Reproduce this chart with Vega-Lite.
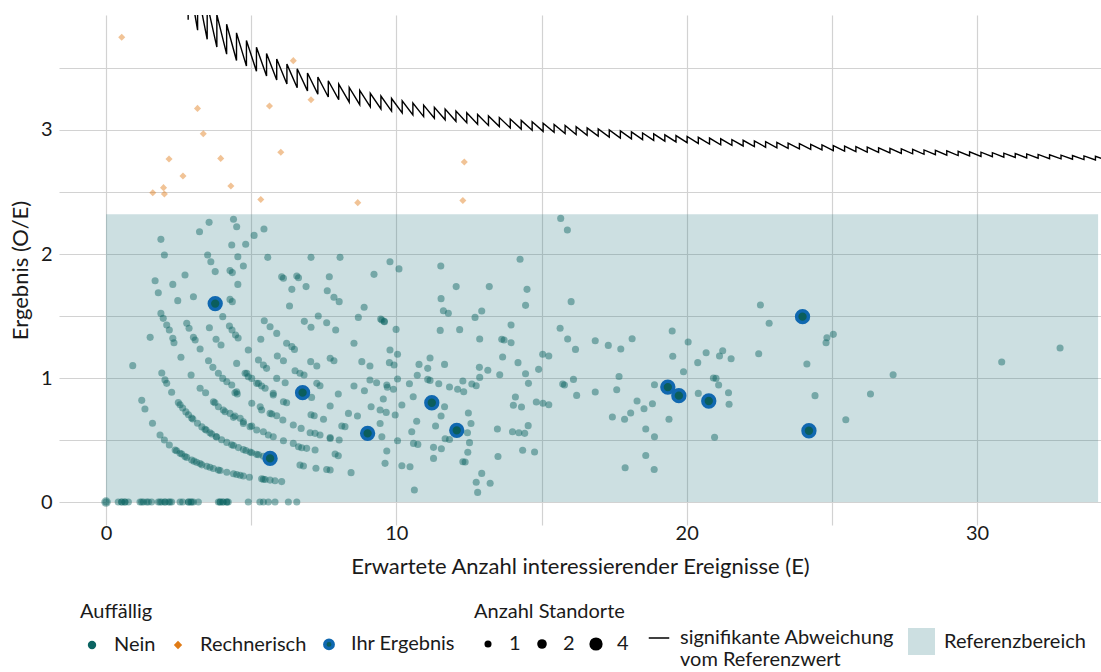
{
  "$schema": "https://vega.github.io/schema/vega-lite/v6.json",
  "width": 1042,
  "height": 510,
  "autosize": {"type": "none"},
  "padding": {"left": 59, "top": 15, "right": 0, "bottom": 147},
  "background": "white",
  "config": {
    "font": "Lato",
    "view": {"stroke": null},
    "axis": {"grid": true, "gridColor": "#d2d2d2", "gridWidth": 1.2, "domain": false, "ticks": false, "labelFont": "Lato", "labelFontSize": 20, "labelColor": "#1a1a1a", "titleFont": "Lato", "titleFontSize": 22, "titleFontWeight": "normal", "titleColor": "#1a1a1a"},
    "legend": {"labelFont": "Lato", "labelFontSize": 20, "labelColor": "#1a1a1a", "titleFont": "Lato", "titleFontSize": 20, "titleFontWeight": "normal", "titleColor": "#1a1a1a", "labelLimit": 400, "padding": 0}
  },
  "datasets": {
    "band": [{"x1": 0, "x2": 34.17, "y1": 0, "y2": 2.32}],
    "ihr": [
      {"E":3.76,"R":1.6,"k":"Ihr Ergebnis"},{"E":6.77,"R":0.882,"k":"Ihr Ergebnis"},{"E":5.65,"R":0.352,"k":"Ihr Ergebnis"},{"E":9.01,"R":0.554,"k":"Ihr Ergebnis"},{"E":11.22,"R":0.801,"k":"Ihr Ergebnis"},{"E":12.08,"R":0.578,"k":"Ihr Ergebnis"},{"E":19.35,"R":0.927,"k":"Ihr Ergebnis"},{"E":19.73,"R":0.858,"k":"Ihr Ergebnis"},{"E":20.76,"R":0.815,"k":"Ihr Ergebnis"},{"E":23.99,"R":1.495,"k":"Ihr Ergebnis"},{"E":24.21,"R":0.575,"k":"Ihr Ergebnis"}
    ],
    "pts": [
      {"E":0.54,"R":3.747,"k":"Rechnerisch","n":1},{"E":1.61,"R":2.494,"k":"Rechnerisch","n":1},{"E":1.98,"R":2.535,"k":"Rechnerisch","n":1},{"E":2.01,"R":2.484,"k":"Rechnerisch","n":1},{"E":2.17,"R":2.766,"k":"Rechnerisch","n":1},{"E":2.65,"R":2.629,"k":"Rechnerisch","n":1},{"E":3.15,"R":3.174,"k":"Rechnerisch","n":1},{"E":3.35,"R":2.97,"k":"Rechnerisch","n":1},{"E":3.95,"R":2.771,"k":"Rechnerisch","n":1},{"E":4.3,"R":2.548,"k":"Rechnerisch","n":1},{"E":5.33,"R":2.44,"k":"Rechnerisch","n":1},{"E":5.63,"R":3.193,"k":"Rechnerisch","n":1},{"E":6.02,"R":2.82,"k":"Rechnerisch","n":1},{"E":6.45,"R":3.559,"k":"Rechnerisch","n":1},{"E":7.06,"R":3.244,"k":"Rechnerisch","n":1},{"E":8.67,"R":2.414,"k":"Rechnerisch","n":1},{"E":12.34,"R":2.742,"k":"Rechnerisch","n":1},{"E":12.29,"R":2.432,"k":"Rechnerisch","n":1},
      {"E":0,"R":0,"k":"Nein","n":2},{"E":0,"R":0,"k":"Nein","n":1},{"E":0.42,"R":0,"k":"Nein","n":1},{"E":0.54,"R":0,"k":"Nein","n":1},{"E":0.54,"R":0,"k":"Nein","n":1},{"E":0.65,"R":0,"k":"Nein","n":1},{"E":0.65,"R":0,"k":"Nein","n":1},{"E":0.77,"R":0,"k":"Nein","n":1},{"E":1.17,"R":0,"k":"Nein","n":1},{"E":1.23,"R":0,"k":"Nein","n":1},{"E":1.29,"R":0,"k":"Nein","n":1},{"E":1.4,"R":0,"k":"Nein","n":1},{"E":1.46,"R":0,"k":"Nein","n":1},{"E":1.57,"R":0,"k":"Nein","n":1},{"E":1.8,"R":0,"k":"Nein","n":1},{"E":1.86,"R":0,"k":"Nein","n":1},{"E":1.92,"R":0,"k":"Nein","n":1},{"E":2.03,"R":0,"k":"Nein","n":1},{"E":2.03,"R":0,"k":"Nein","n":1},{"E":2.15,"R":0,"k":"Nein","n":1},{"E":2.2,"R":0,"k":"Nein","n":1},{"E":2.26,"R":0,"k":"Nein","n":1},{"E":2.55,"R":0,"k":"Nein","n":1},{"E":2.64,"R":0,"k":"Nein","n":1},{"E":2.84,"R":0,"k":"Nein","n":1},{"E":2.84,"R":0,"k":"Nein","n":1},{"E":2.92,"R":0,"k":"Nein","n":1},{"E":2.95,"R":0,"k":"Nein","n":1},{"E":3.01,"R":0,"k":"Nein","n":1},{"E":3.18,"R":0,"k":"Nein","n":1},{"E":3.87,"R":0,"k":"Nein","n":1},{"E":3.93,"R":0,"k":"Nein","n":1},{"E":3.93,"R":0,"k":"Nein","n":1},{"E":4.02,"R":0,"k":"Nein","n":1},{"E":4.04,"R":0,"k":"Nein","n":1},{"E":4.16,"R":0,"k":"Nein","n":1},{"E":4.16,"R":0,"k":"Nein","n":1},{"E":4.21,"R":0,"k":"Nein","n":1},{"E":4.9,"R":0,"k":"Nein","n":1},{"E":5.3,"R":0,"k":"Nein","n":1},{"E":5.42,"R":0,"k":"Nein","n":1},{"E":5.59,"R":0,"k":"Nein","n":1},{"E":5.82,"R":0,"k":"Nein","n":1},{"E":6.28,"R":0,"k":"Nein","n":1},{"E":6.57,"R":0,"k":"Nein","n":1},
      {"E":1.89,"R":2.118,"k":"Nein","n":1},{"E":2.01,"R":1.992,"k":"Nein","n":1},{"E":3.22,"R":2.18,"k":"Nein","n":1},{"E":3.55,"R":2.255,"k":"Nein","n":1},{"E":4.39,"R":2.28,"k":"Nein","n":1},{"E":4.5,"R":2.22,"k":"Nein","n":1},{"E":4.33,"R":2.072,"k":"Nein","n":1},{"E":4.81,"R":2.078,"k":"Nein","n":1},{"E":5.1,"R":2.15,"k":"Nein","n":1},{"E":5.44,"R":2.201,"k":"Nein","n":1},{"E":5.57,"R":1.973,"k":"Nein","n":1},{"E":7.06,"R":1.973,"k":"Nein","n":1},{"E":8.06,"R":1.973,"k":"Nein","n":1},{"E":3.5,"R":1.992,"k":"Nein","n":1},{"E":4.54,"R":1.978,"k":"Nein","n":1},{"E":9.78,"R":1.938,"k":"Nein","n":1},
      {"E":3.61,"R":1.938,"k":"Nein","n":1},{"E":3.76,"R":1.858,"k":"Nein","n":1},{"E":4.27,"R":1.866,"k":"Nein","n":1},{"E":4.35,"R":1.85,"k":"Nein","n":1},{"E":1.69,"R":1.785,"k":"Nein","n":1},{"E":1.8,"R":1.688,"k":"Nein","n":1},{"E":2.3,"R":1.755,"k":"Nein","n":1},{"E":2.72,"R":1.831,"k":"Nein","n":1},{"E":2.47,"R":1.624,"k":"Nein","n":1},{"E":3.01,"R":1.656,"k":"Nein","n":1},{"E":4.27,"R":1.634,"k":"Nein","n":1},{"E":4.35,"R":1.616,"k":"Nein","n":1},{"E":4.54,"R":1.755,"k":"Nein","n":1},{"E":4.02,"R":1.495,"k":"Nein","n":1},{"E":3.56,"R":1.406,"k":"Nein","n":1},{"E":3.79,"R":1.312,"k":"Nein","n":1},{"E":3.96,"R":1.266,"k":"Nein","n":1},{"E":4.25,"R":1.419,"k":"Nein","n":1},{"E":4.34,"R":1.387,"k":"Nein","n":1},{"E":4.46,"R":1.347,"k":"Nein","n":1},{"E":4.55,"R":1.323,"k":"Nein","n":1},{"E":1.52,"R":1.328,"k":"Nein","n":1},{"E":1.89,"R":1.521,"k":"Nein","n":1},{"E":1.97,"R":1.481,"k":"Nein","n":1},{"E":2.09,"R":1.427,"k":"Nein","n":1},{"E":2.18,"R":1.387,"k":"Nein","n":1},{"E":2.3,"R":1.32,"k":"Nein","n":1},{"E":2.34,"R":1.285,"k":"Nein","n":1},{"E":2.58,"R":1.167,"k":"Nein","n":1},{"E":2.93,"R":1.024,"k":"Nein","n":1},{"E":2.78,"R":1.441,"k":"Nein","n":1},{"E":2.86,"R":1.401,"k":"Nein","n":1},{"E":3.01,"R":1.328,"k":"Nein","n":1},{"E":3.07,"R":1.306,"k":"Nein","n":1},{"E":3.24,"R":1.234,"k":"Nein","n":1},{"E":3.53,"R":1.14,"k":"Nein","n":1},{"E":3.68,"R":1.086,"k":"Nein","n":1},{"E":3.87,"R":1.038,"k":"Nein","n":1},{"E":4.02,"R":0.997,"k":"Nein","n":1},{"E":4.16,"R":0.97,"k":"Nein","n":1},{"E":4.33,"R":0.944,"k":"Nein","n":1},{"E":4.44,"R":0.882,"k":"Nein","n":1},{"E":4.52,"R":0.871,"k":"Nein","n":1},{"E":0.92,"R":1.1,"k":"Nein","n":1},
      {"E":1.23,"R":0.82,"k":"Nein","n":1},{"E":1.34,"R":0.75,"k":"Nein","n":1},{"E":1.6,"R":0.635,"k":"Nein","n":1},{"E":1.86,"R":0.54,"k":"Nein","n":1},{"E":2.01,"R":0.5,"k":"Nein","n":1},{"E":2.18,"R":0.46,"k":"Nein","n":1},{"E":2.38,"R":0.42,"k":"Nein","n":1},{"E":2.43,"R":0.414,"k":"Nein","n":1},{"E":2.55,"R":0.393,"k":"Nein","n":1},{"E":2.61,"R":0.387,"k":"Nein","n":1},{"E":2.72,"R":0.368,"k":"Nein","n":1},{"E":2.78,"R":0.36,"k":"Nein","n":1},{"E":2.95,"R":0.339,"k":"Nein","n":1},{"E":3.03,"R":0.33,"k":"Nein","n":1},{"E":3.12,"R":0.32,"k":"Nein","n":1},{"E":3.24,"R":0.31,"k":"Nein","n":1},{"E":3.3,"R":0.3,"k":"Nein","n":1},{"E":3.47,"R":0.288,"k":"Nein","n":1},{"E":3.58,"R":0.28,"k":"Nein","n":1},{"E":3.7,"R":0.27,"k":"Nein","n":1},{"E":3.87,"R":0.258,"k":"Nein","n":1},{"E":3.93,"R":0.254,"k":"Nein","n":1},{"E":4.16,"R":0.24,"k":"Nein","n":1},{"E":4.39,"R":0.228,"k":"Nein","n":1},{"E":4.5,"R":0.222,"k":"Nein","n":1},{"E":4.62,"R":0.216,"k":"Nein","n":1},{"E":4.73,"R":0.21,"k":"Nein","n":1},{"E":4.94,"R":0.2,"k":"Nein","n":1},{"E":5.36,"R":0.187,"k":"Nein","n":1},{"E":5.42,"R":0.184,"k":"Nein","n":1},{"E":5.48,"R":0.182,"k":"Nein","n":1},{"E":5.65,"R":0.177,"k":"Nein","n":1},{"E":5.82,"R":0.172,"k":"Nein","n":1},{"E":6.05,"R":0.165,"k":"Nein","n":1},
      {"E":1.92,"R":1.04,"k":"Nein","n":1},{"E":2.03,"R":0.985,"k":"Nein","n":1},{"E":2.09,"R":0.957,"k":"Nein","n":1},{"E":2.26,"R":0.885,"k":"Nein","n":1},{"E":2.49,"R":0.803,"k":"Nein","n":1},{"E":2.55,"R":0.784,"k":"Nein","n":1},{"E":2.64,"R":0.758,"k":"Nein","n":1},{"E":2.75,"R":0.727,"k":"Nein","n":1},{"E":2.84,"R":0.704,"k":"Nein","n":1},{"E":2.95,"R":0.678,"k":"Nein","n":1},{"E":2.99,"R":0.669,"k":"Nein","n":1},{"E":3.15,"R":0.635,"k":"Nein","n":1},{"E":3.3,"R":0.606,"k":"Nein","n":1},{"E":3.41,"R":0.587,"k":"Nein","n":1},{"E":3.45,"R":0.58,"k":"Nein","n":1},{"E":3.58,"R":0.559,"k":"Nein","n":1},{"E":3.64,"R":0.549,"k":"Nein","n":1},{"E":3.79,"R":0.528,"k":"Nein","n":1},{"E":3.81,"R":0.525,"k":"Nein","n":1},{"E":3.98,"R":0.503,"k":"Nein","n":1},{"E":4.16,"R":0.481,"k":"Nein","n":1},{"E":4.33,"R":0.462,"k":"Nein","n":1},{"E":4.39,"R":0.456,"k":"Nein","n":1},{"E":4.56,"R":0.439,"k":"Nein","n":1},{"E":4.73,"R":0.423,"k":"Nein","n":1},{"E":4.82,"R":0.415,"k":"Nein","n":1},{"E":4.96,"R":0.403,"k":"Nein","n":1},{"E":5.02,"R":0.398,"k":"Nein","n":1},{"E":5.19,"R":0.385,"k":"Nein","n":1},{"E":5.25,"R":0.381,"k":"Nein","n":1},{"E":5.42,"R":0.369,"k":"Nein","n":1},
      {"E":3.24,"R":0.917,"k":"Nein","n":1},{"E":3.43,"R":0.882,"k":"Nein","n":1},{"E":3.7,"R":0.809,"k":"Nein","n":1},{"E":3.75,"R":0.801,"k":"Nein","n":1},{"E":3.87,"R":0.769,"k":"Nein","n":1},{"E":4.04,"R":0.742,"k":"Nein","n":1},{"E":4.1,"R":0.728,"k":"Nein","n":1},{"E":4.27,"R":0.715,"k":"Nein","n":1},{"E":4.39,"R":0.683,"k":"Nein","n":1},{"E":4.44,"R":0.694,"k":"Nein","n":1},{"E":4.62,"R":0.675,"k":"Nein","n":1},{"E":4.73,"R":0.634,"k":"Nein","n":1},{"E":4.73,"R":0.648,"k":"Nein","n":1},{"E":4.96,"R":0.608,"k":"Nein","n":1},{"E":5.02,"R":0.613,"k":"Nein","n":1},{"E":5.19,"R":0.581,"k":"Nein","n":1},{"E":5.42,"R":0.567,"k":"Nein","n":1},{"E":5.59,"R":0.54,"k":"Nein","n":1},{"E":5.76,"R":0.527,"k":"Nein","n":1},{"E":6.11,"R":0.495,"k":"Nein","n":1},{"E":6.45,"R":0.473,"k":"Nein","n":1},{"E":6.63,"R":0.446,"k":"Nein","n":1},{"E":6.74,"R":0.438,"k":"Nein","n":1},{"E":6.91,"R":0.433,"k":"Nein","n":1},{"E":7.2,"R":0.419,"k":"Nein","n":1},{"E":7.89,"R":0.387,"k":"Nein","n":1},{"E":8.0,"R":0.374,"k":"Nein","n":1},
      {"E":5.02,"R":0.796,"k":"Nein","n":1},{"E":5.31,"R":0.769,"k":"Nein","n":1},{"E":5.36,"R":0.742,"k":"Nein","n":1},{"E":5.65,"R":0.715,"k":"Nein","n":1},{"E":5.71,"R":0.71,"k":"Nein","n":1},{"E":5.88,"R":0.696,"k":"Nein","n":1},{"E":6.09,"R":0.661,"k":"Nein","n":1},{"E":6.45,"R":0.621,"k":"Nein","n":1},{"E":6.72,"R":0.594,"k":"Nein","n":1},{"E":7.03,"R":0.559,"k":"Nein","n":1},{"E":7.2,"R":0.554,"k":"Nein","n":1},{"E":7.37,"R":0.54,"k":"Nein","n":1},{"E":7.72,"R":0.521,"k":"Nein","n":1},{"E":8.03,"R":0.5,"k":"Nein","n":1},{"E":4.5,"R":0.89,"k":"Nein","n":1},
      {"E":4.5,"R":1.118,"k":"Nein","n":1},{"E":4.79,"R":1.038,"k":"Nein","n":1},{"E":4.85,"R":1.038,"k":"Nein","n":1},{"E":4.9,"R":1.011,"k":"Nein","n":1},{"E":5.02,"R":0.997,"k":"Nein","n":1},{"E":5.19,"R":0.957,"k":"Nein","n":1},{"E":5.25,"R":0.957,"k":"Nein","n":1},{"E":5.36,"R":0.936,"k":"Nein","n":1},{"E":5.48,"R":0.917,"k":"Nein","n":1},{"E":5.76,"R":0.876,"k":"Nein","n":1},{"E":5.76,"R":0.863,"k":"Nein","n":1},{"E":6.11,"R":0.809,"k":"Nein","n":1},{"E":6.22,"R":0.801,"k":"Nein","n":1},{"E":7.06,"R":0.704,"k":"Nein","n":1},{"E":7.17,"R":0.696,"k":"Nein","n":1},{"E":7.49,"R":0.667,"k":"Nein","n":1},{"E":8.12,"R":0.613,"k":"Nein","n":1},{"E":8.23,"R":0.608,"k":"Nein","n":1},
      {"E":4.73,"R":1.903,"k":"Nein","n":1},{"E":9.23,"R":1.836,"k":"Nein","n":1},{"E":6.05,"R":1.817,"k":"Nein","n":1},{"E":6.11,"R":1.804,"k":"Nein","n":1},{"E":6.57,"R":1.823,"k":"Nein","n":1},{"E":6.63,"R":1.809,"k":"Nein","n":1},{"E":7.69,"R":1.817,"k":"Nein","n":1},{"E":6.4,"R":1.715,"k":"Nein","n":1},{"E":6.89,"R":1.737,"k":"Nein","n":1},{"E":7.62,"R":1.704,"k":"Nein","n":1},{"E":7.85,"R":1.651,"k":"Nein","n":1},{"E":8.03,"R":1.616,"k":"Nein","n":1},{"E":6.32,"R":1.581,"k":"Nein","n":1},{"E":8.89,"R":1.57,"k":"Nein","n":1},{"E":8.69,"R":1.489,"k":"Nein","n":1},{"E":9.46,"R":1.476,"k":"Nein","n":1},{"E":9.58,"R":1.457,"k":"Nein","n":1},{"E":5.45,"R":1.462,"k":"Nein","n":1},{"E":5.65,"R":1.414,"k":"Nein","n":1},{"E":5.88,"R":1.36,"k":"Nein","n":1},{"E":6.83,"R":1.457,"k":"Nein","n":1},{"E":7.06,"R":1.409,"k":"Nein","n":1},{"E":7.31,"R":1.5,"k":"Nein","n":1},{"E":7.6,"R":1.446,"k":"Nein","n":1},{"E":7.91,"R":1.387,"k":"Nein","n":1},{"E":5.33,"R":1.312,"k":"Nein","n":1},{"E":6.22,"R":1.28,"k":"Nein","n":1},{"E":6.4,"R":1.253,"k":"Nein","n":1},{"E":6.49,"R":1.231,"k":"Nein","n":1},{"E":5.9,"R":1.177,"k":"Nein","n":1},{"E":6.11,"R":1.14,"k":"Nein","n":1},{"E":4.9,"R":1.226,"k":"Nein","n":1},{"E":5.25,"R":1.145,"k":"Nein","n":1},{"E":5.42,"R":1.105,"k":"Nein","n":1},{"E":5.53,"R":1.078,"k":"Nein","n":1},{"E":7.05,"R":1.132,"k":"Nein","n":1},{"E":7.26,"R":1.097,"k":"Nein","n":1},{"E":7.72,"R":1.159,"k":"Nein","n":1},{"E":7.85,"R":1.14,"k":"Nein","n":1},{"E":8.54,"R":1.28,"k":"Nein","n":1},{"E":8.81,"R":1.132,"k":"Nein","n":1},{"E":9.09,"R":1.097,"k":"Nein","n":1},{"E":5.88,"R":0.997,"k":"Nein","n":1},{"E":6.17,"R":0.962,"k":"Nein","n":1},{"E":6.51,"R":1.059,"k":"Nein","n":1},{"E":6.68,"R":1.038,"k":"Nein","n":1},{"E":6.82,"R":1.024,"k":"Nein","n":1},{"E":7.26,"R":0.957,"k":"Nein","n":1},{"E":7.37,"R":0.938,"k":"Nein","n":1},{"E":8.0,"R":0.871,"k":"Nein","n":1},{"E":7.08,"R":0.844,"k":"Nein","n":1},{"E":7.72,"R":0.774,"k":"Nein","n":1},{"E":8.54,"R":0.936,"k":"Nein","n":1},{"E":8.9,"R":0.898,"k":"Nein","n":1},{"E":9.09,"R":0.984,"k":"Nein","n":1},{"E":9.32,"R":0.962,"k":"Nein","n":1},{"E":9.67,"R":0.944,"k":"Nein","n":1},{"E":9.9,"R":0.909,"k":"Nein","n":1},{"E":8.66,"R":0.694,"k":"Nein","n":1},{"E":8.35,"R":0.715,"k":"Nein","n":1},{"E":9.13,"R":0.769,"k":"Nein","n":1},{"E":7.72,"R":0.513,"k":"Nein","n":1},{"E":6.68,"R":0.298,"k":"Nein","n":1},{"E":6.8,"R":0.29,"k":"Nein","n":1},{"E":7.23,"R":0.272,"k":"Nein","n":1},{"E":7.6,"R":0.263,"k":"Nein","n":1},{"E":7.72,"R":0.258,"k":"Nein","n":1},{"E":8.44,"R":0.237,"k":"Nein","n":1},
      {"E":10.09,"R":1.88,"k":"Nein","n":1},{"E":11.53,"R":1.903,"k":"Nein","n":1},{"E":14.26,"R":1.957,"k":"Nein","n":1},{"E":12.06,"R":1.737,"k":"Nein","n":1},{"E":13.2,"R":1.737,"k":"Nein","n":1},{"E":14.5,"R":1.715,"k":"Nein","n":1},{"E":11.54,"R":1.64,"k":"Nein","n":1},{"E":14.45,"R":1.586,"k":"Nein","n":1},{"E":16.02,"R":1.616,"k":"Nein","n":1},{"E":11.62,"R":1.543,"k":"Nein","n":1},{"E":11.79,"R":1.522,"k":"Nein","n":1},{"E":12.71,"R":1.489,"k":"Nein","n":1},{"E":12.94,"R":1.54,"k":"Nein","n":1},{"E":9.5,"R":1.468,"k":"Nein","n":1},{"E":9.59,"R":1.454,"k":"Nein","n":1},{"E":9.99,"R":1.392,"k":"Nein","n":1},{"E":11.51,"R":1.384,"k":"Nein","n":1},{"E":12.18,"R":1.39,"k":"Nein","n":1},{"E":13.95,"R":1.427,"k":"Nein","n":1},{"E":15.64,"R":1.401,"k":"Nein","n":1},{"E":15.9,"R":1.315,"k":"Nein","n":1},{"E":16.17,"R":1.231,"k":"Nein","n":1},{"E":16.85,"R":1.301,"k":"Nein","n":1},{"E":17.3,"R":1.263,"k":"Nein","n":1},{"E":17.73,"R":1.234,"k":"Nein","n":1},{"E":18.12,"R":1.317,"k":"Nein","n":1},{"E":19.5,"R":1.379,"k":"Nein","n":1},{"E":20.05,"R":1.29,"k":"Nein","n":1},{"E":19.52,"R":1.175,"k":"Nein","n":1},{"E":19.89,"R":1.051,"k":"Nein","n":1},{"E":20.38,"R":1.124,"k":"Nein","n":1},{"E":20.67,"R":1.204,"k":"Nein","n":1},{"E":21.13,"R":1.177,"k":"Nein","n":1},{"E":21.24,"R":1.22,"k":"Nein","n":1},{"E":21.53,"R":1.156,"k":"Nein","n":1},{"E":22.48,"R":1.196,"k":"Nein","n":1},{"E":22.54,"R":1.589,"k":"Nein","n":1},{"E":22.84,"R":1.441,"k":"Nein","n":1},{"E":12.87,"R":1.315,"k":"Nein","n":1},{"E":13.63,"R":1.312,"k":"Nein","n":1},{"E":13.71,"R":1.306,"k":"Nein","n":1},{"E":13.95,"R":1.285,"k":"Nein","n":1},{"E":9.78,"R":1.226,"k":"Nein","n":1},{"E":10.04,"R":1.191,"k":"Nein","n":1},{"E":11.16,"R":1.161,"k":"Nein","n":1},{"E":11.66,"R":1.11,"k":"Nein","n":1},{"E":10.78,"R":1.11,"k":"Nein","n":1},{"E":11.08,"R":1.078,"k":"Nein","n":1},{"E":9.76,"R":1.124,"k":"Nein","n":1},{"E":9.92,"R":1.105,"k":"Nein","n":1},{"E":12.86,"R":1.086,"k":"Nein","n":1},{"E":13.15,"R":1.062,"k":"Nein","n":1},{"E":13.66,"R":1.169,"k":"Nein","n":1},{"E":14.19,"R":1.124,"k":"Nein","n":1},{"E":15.04,"R":1.191,"k":"Nein","n":1},{"E":15.25,"R":1.177,"k":"Nein","n":1},{"E":14.9,"R":1.07,"k":"Nein","n":1},{"E":14.45,"R":1.035,"k":"Nein","n":1},{"E":14.55,"R":0.957,"k":"Nein","n":1},{"E":13.56,"R":1.027,"k":"Nein","n":1},{"E":12.87,"R":1.005,"k":"Nein","n":1},{"E":12.29,"R":0.976,"k":"Nein","n":1},{"E":12.11,"R":0.909,"k":"Nein","n":1},{"E":12.32,"R":0.89,"k":"Nein","n":1},{"E":12.6,"R":0.952,"k":"Nein","n":1},{"E":12.75,"R":0.938,"k":"Nein","n":1},{"E":11.83,"R":0.927,"k":"Nein","n":1},{"E":11.46,"R":0.954,"k":"Nein","n":1},{"E":11.16,"R":0.981,"k":"Nein","n":1},{"E":11.08,"R":0.989,"k":"Nein","n":1},{"E":10.45,"R":0.954,"k":"Nein","n":1},{"E":10.72,"R":1.022,"k":"Nein","n":1},{"E":10.04,"R":0.992,"k":"Nein","n":1},{"E":9.69,"R":0.925,"k":"Nein","n":1},{"E":10.58,"R":0.849,"k":"Nein","n":1},{"E":10.19,"R":0.782,"k":"Nein","n":1},{"E":9.55,"R":0.831,"k":"Nein","n":1},{"E":9.44,"R":0.742,"k":"Nein","n":1},{"E":9.65,"R":0.723,"k":"Nein","n":1},{"E":9.96,"R":0.702,"k":"Nein","n":1},{"E":10.7,"R":0.651,"k":"Nein","n":1},{"E":11.35,"R":0.613,"k":"Nein","n":1},{"E":11.54,"R":0.694,"k":"Nein","n":1},{"E":11.66,"R":0.769,"k":"Nein","n":1},{"E":12.48,"R":0.718,"k":"Nein","n":1},{"E":12.57,"R":0.634,"k":"Nein","n":1},{"E":12.45,"R":0.559,"k":"Nein","n":1},{"E":13.48,"R":0.589,"k":"Nein","n":1},{"E":14.0,"R":0.567,"k":"Nein","n":1},{"E":14.22,"R":0.559,"k":"Nein","n":1},{"E":14.42,"R":0.554,"k":"Nein","n":1},{"E":14.54,"R":0.616,"k":"Nein","n":1},{"E":14.03,"R":0.78,"k":"Nein","n":1},{"E":14.31,"R":0.766,"k":"Nein","n":1},{"E":14.1,"R":0.847,"k":"Nein","n":1},{"E":14.82,"R":0.807,"k":"Nein","n":1},{"E":15.05,"R":0.796,"k":"Nein","n":1},{"E":15.25,"R":0.785,"k":"Nein","n":1},{"E":15.73,"R":0.952,"k":"Nein","n":1},{"E":15.79,"R":0.944,"k":"Nein","n":1},{"E":16.1,"R":0.989,"k":"Nein","n":1},{"E":16.21,"R":0.86,"k":"Nein","n":1},{"E":16.85,"R":0.887,"k":"Nein","n":1},{"E":17.67,"R":1.013,"k":"Nein","n":1},{"E":17.59,"R":0.906,"k":"Nein","n":1},{"E":17.44,"R":0.686,"k":"Nein","n":1},{"E":17.86,"R":0.667,"k":"Nein","n":1},{"E":18.07,"R":0.718,"k":"Nein","n":1},{"E":18.29,"R":0.815,"k":"Nein","n":1},{"E":18.53,"R":0.753,"k":"Nein","n":1},{"E":18.82,"R":0.793,"k":"Nein","n":1},{"E":18.89,"R":0.946,"k":"Nein","n":1},{"E":20.4,"R":0.876,"k":"Nein","n":1},{"E":20.92,"R":1.0,"k":"Nein","n":1},{"E":21.01,"R":0.997,"k":"Nein","n":1},{"E":21.1,"R":0.944,"k":"Nein","n":1},{"E":21.44,"R":0.882,"k":"Nein","n":1},{"E":21.46,"R":0.788,"k":"Nein","n":1},{"E":19.39,"R":0.667,"k":"Nein","n":1},{"E":20.96,"R":0.522,"k":"Nein","n":1},{"E":18.59,"R":0.589,"k":"Nein","n":1},{"E":18.89,"R":0.527,"k":"Nein","n":1},{"E":18.59,"R":0.376,"k":"Nein","n":1},{"E":17.88,"R":0.277,"k":"Nein","n":1},{"E":18.88,"R":0.263,"k":"Nein","n":1},{"E":14.76,"R":0.403,"k":"Nein","n":1},{"E":14.35,"R":0.417,"k":"Nein","n":1},{"E":13.5,"R":0.368,"k":"Nein","n":1},{"E":12.29,"R":0.325,"k":"Nein","n":1},{"E":12.37,"R":0.323,"k":"Nein","n":1},{"E":12.46,"R":0.401,"k":"Nein","n":1},{"E":12.52,"R":0.479,"k":"Nein","n":1},{"E":11.83,"R":0.505,"k":"Nein","n":1},{"E":11.68,"R":0.511,"k":"Nein","n":1},{"E":11.55,"R":0.43,"k":"Nein","n":1},{"E":11.28,"R":0.441,"k":"Nein","n":1},{"E":11.28,"R":0.352,"k":"Nein","n":1},{"E":10.74,"R":0.465,"k":"Nein","n":1},{"E":10.59,"R":0.473,"k":"Nein","n":1},{"E":10.53,"R":0.567,"k":"Nein","n":1},{"E":10.04,"R":0.495,"k":"Nein","n":1},{"E":9.67,"R":0.411,"k":"Nein","n":1},{"E":9.61,"R":0.312,"k":"Nein","n":1},{"E":10.19,"R":0.293,"k":"Nein","n":1},{"E":10.47,"R":0.285,"k":"Nein","n":1},{"E":10.62,"R":0.097,"k":"Nein","n":1},{"E":12.75,"R":0.159,"k":"Nein","n":1},{"E":12.94,"R":0.231,"k":"Nein","n":1},{"E":13.23,"R":0.151,"k":"Nein","n":1},{"E":12.8,"R":0.078,"k":"Nein","n":1},{"E":9.5,"R":0.527,"k":"Nein","n":1},{"E":9.44,"R":0.634,"k":"Nein","n":1},
      {"E":24.83,"R":1.325,"k":"Nein","n":1},{"E":24.8,"R":1.285,"k":"Nein","n":1},{"E":25.05,"R":1.352,"k":"Nein","n":1},{"E":24.14,"R":1.113,"k":"Nein","n":1},{"E":24.42,"R":0.858,"k":"Nein","n":1},{"E":25.48,"R":0.664,"k":"Nein","n":1},{"E":26.33,"R":0.871,"k":"Nein","n":1},{"E":27.11,"R":1.027,"k":"Nein","n":1},{"E":30.85,"R":1.129,"k":"Nein","n":1},{"E":32.86,"R":1.242,"k":"Nein","n":1},{"E":15.66,"R":2.287,"k":"Nein","n":1},{"E":15.89,"R":2.193,"k":"Nein","n":1}
    ],
    "zz": [
      {"E":2.829,"R":3.888,"i":0},{"E":2.829,"R":4.242,"i":1},{"E":3.154,"R":3.805,"i":2},{"E":3.154,"R":4.122,"i":3},{"E":3.484,"R":3.731,"i":4},{"E":3.484,"R":4.018,"i":5},{"E":3.817,"R":3.668,"i":6},{"E":3.817,"R":3.93,"i":7},{"E":4.154,"R":3.611,"i":8},{"E":4.154,"R":3.852,"i":9},{"E":4.494,"R":3.56,"i":10},{"E":4.494,"R":3.783,"i":11},{"E":4.836,"R":3.515,"i":12},{"E":4.836,"R":3.722,"i":13},{"E":5.181,"R":3.474,"i":14},{"E":5.181,"R":3.667,"i":15},{"E":5.529,"R":3.436,"i":16},{"E":5.529,"R":3.617,"i":17},{"E":5.879,"R":3.402,"i":18},{"E":5.879,"R":3.572,"i":19},{"E":6.23,"R":3.371,"i":20},{"E":6.23,"R":3.531,"i":21},{"E":6.584,"R":3.341,"i":22},{"E":6.584,"R":3.493,"i":23},{"E":6.939,"R":3.315,"i":24},{"E":6.939,"R":3.459,"i":25},{"E":7.296,"R":3.289,"i":26},{"E":7.296,"R":3.427,"i":27},{"E":7.655,"R":3.266,"i":28},{"E":7.655,"R":3.397,"i":29},{"E":8.015,"R":3.244,"i":30},{"E":8.015,"R":3.369,"i":31},{"E":8.376,"R":3.224,"i":32},{"E":8.376,"R":3.343,"i":33},{"E":8.738,"R":3.204,"i":34},{"E":8.738,"R":3.319,"i":35},{"E":9.102,"R":3.186,"i":36},{"E":9.102,"R":3.296,"i":37},{"E":9.468,"R":3.169,"i":38},{"E":9.468,"R":3.274,"i":39},{"E":9.834,"R":3.152,"i":40},{"E":9.834,"R":3.254,"i":41},{"E":10.201,"R":3.137,"i":42},{"E":10.201,"R":3.235,"i":43},{"E":10.569,"R":3.122,"i":44},{"E":10.569,"R":3.217,"i":45},{"E":10.939,"R":3.108,"i":46},{"E":10.939,"R":3.2,"i":47},{"E":11.309,"R":3.095,"i":48},{"E":11.309,"R":3.183,"i":49},{"E":11.68,"R":3.082,"i":50},{"E":11.68,"R":3.168,"i":51},{"E":12.052,"R":3.07,"i":52},{"E":12.052,"R":3.153,"i":53},{"E":12.425,"R":3.058,"i":54},{"E":12.425,"R":3.139,"i":55},{"E":12.798,"R":3.047,"i":56},{"E":12.798,"R":3.125,"i":57},{"E":13.172,"R":3.037,"i":58},{"E":13.172,"R":3.113,"i":59},{"E":13.547,"R":3.027,"i":60},{"E":13.547,"R":3.1,"i":61},{"E":13.923,"R":3.017,"i":62},{"E":13.923,"R":3.088,"i":63},{"E":14.3,"R":3.007,"i":64},{"E":14.3,"R":3.077,"i":65},{"E":14.677,"R":2.998,"i":66},{"E":14.677,"R":3.066,"i":67},{"E":15.055,"R":2.989,"i":68},{"E":15.055,"R":3.055,"i":69},{"E":15.433,"R":2.981,"i":70},{"E":15.433,"R":3.045,"i":71},{"E":15.812,"R":2.972,"i":72},{"E":15.812,"R":3.036,"i":73},{"E":16.192,"R":2.964,"i":74},{"E":16.192,"R":3.026,"i":75},{"E":16.571,"R":2.957,"i":76},{"E":16.571,"R":3.017,"i":77},{"E":16.952,"R":2.95,"i":78},{"E":16.952,"R":3.008,"i":79},{"E":17.333,"R":2.942,"i":80},{"E":17.333,"R":3.0,"i":81},{"E":17.715,"R":2.935,"i":82},{"E":17.715,"R":2.992,"i":83},{"E":18.097,"R":2.929,"i":84},{"E":18.097,"R":2.984,"i":85},{"E":18.48,"R":2.922,"i":86},{"E":18.48,"R":2.976,"i":87},{"E":18.863,"R":2.916,"i":88},{"E":18.863,"R":2.969,"i":89},{"E":19.247,"R":2.91,"i":90},{"E":19.247,"R":2.961,"i":91},{"E":19.631,"R":2.904,"i":92},{"E":19.631,"R":2.955,"i":93},{"E":20.015,"R":2.898,"i":94},{"E":20.015,"R":2.948,"i":95},{"E":20.4,"R":2.892,"i":96},{"E":20.4,"R":2.941,"i":97},{"E":20.786,"R":2.887,"i":98},{"E":20.786,"R":2.935,"i":99},{"E":21.171,"R":2.881,"i":100},{"E":21.171,"R":2.929,"i":101},{"E":21.557,"R":2.876,"i":102},{"E":21.557,"R":2.922,"i":103},{"E":21.944,"R":2.871,"i":104},{"E":21.944,"R":2.917,"i":105},{"E":22.331,"R":2.866,"i":106},{"E":22.331,"R":2.911,"i":107},{"E":22.718,"R":2.861,"i":108},{"E":22.718,"R":2.905,"i":109},{"E":23.106,"R":2.856,"i":110},{"E":23.106,"R":2.9,"i":111},{"E":23.493,"R":2.852,"i":112},{"E":23.493,"R":2.894,"i":113},{"E":23.882,"R":2.847,"i":114},{"E":23.882,"R":2.889,"i":115},{"E":24.271,"R":2.843,"i":116},{"E":24.271,"R":2.884,"i":117},{"E":24.659,"R":2.839,"i":118},{"E":24.659,"R":2.879,"i":119},{"E":25.049,"R":2.834,"i":120},{"E":25.049,"R":2.874,"i":121},{"E":25.438,"R":2.83,"i":122},{"E":25.438,"R":2.87,"i":123},{"E":25.828,"R":2.826,"i":124},{"E":25.828,"R":2.865,"i":125},{"E":26.218,"R":2.822,"i":126},{"E":26.218,"R":2.861,"i":127},{"E":26.609,"R":2.819,"i":128},{"E":26.609,"R":2.856,"i":129},{"E":27.0,"R":2.815,"i":130},{"E":27.0,"R":2.852,"i":131},{"E":27.391,"R":2.811,"i":132},{"E":27.391,"R":2.848,"i":133},{"E":27.782,"R":2.808,"i":134},{"E":27.782,"R":2.844,"i":135},{"E":28.174,"R":2.804,"i":136},{"E":28.174,"R":2.839,"i":137},{"E":28.566,"R":2.801,"i":138},{"E":28.566,"R":2.836,"i":139},{"E":28.958,"R":2.797,"i":140},{"E":28.958,"R":2.832,"i":141},{"E":29.35,"R":2.794,"i":142},{"E":29.35,"R":2.828,"i":143},{"E":29.743,"R":2.791,"i":144},{"E":29.743,"R":2.824,"i":145},{"E":30.136,"R":2.787,"i":146},{"E":30.136,"R":2.821,"i":147},{"E":30.529,"R":2.784,"i":148},{"E":30.529,"R":2.817,"i":149},{"E":30.923,"R":2.781,"i":150},{"E":30.923,"R":2.813,"i":151},{"E":31.316,"R":2.778,"i":152},{"E":31.316,"R":2.81,"i":153},{"E":31.71,"R":2.775,"i":154},{"E":31.71,"R":2.807,"i":155},{"E":32.104,"R":2.772,"i":156},{"E":32.104,"R":2.803,"i":157},{"E":32.498,"R":2.769,"i":158},{"E":32.498,"R":2.8,"i":159},{"E":32.893,"R":2.767,"i":160},{"E":32.893,"R":2.797,"i":161},{"E":33.288,"R":2.764,"i":162},{"E":33.288,"R":2.794,"i":163},{"E":33.683,"R":2.761,"i":164},{"E":33.683,"R":2.791,"i":165},{"E":34.078,"R":2.758,"i":166},{"E":34.078,"R":2.788,"i":167},{"E":34.474,"R":2.756,"i":168},{"E":34.474,"R":2.785,"i":169}
    ]
  },
  "layer": [
    {
      "data": {"name": "band"},
      "mark": {"type": "rect", "opacity": 0.24},
      "encoding": {
        "x": {"field": "x1", "type": "quantitative", "scale": {"domain": [-1.62, 34.27], "nice": false, "zero": false}, "axis": {"values": [0, 5, 10, 15, 20, 25, 30], "format": "d", "labelExpr": "datum.value % 10 === 0 ? datum.label : ''", "title": "Erwartete Anzahl interessierender Ereignisse (E)", "labelPadding": -2, "titlePadding": 13}},
        "x2": {"field": "x2"},
        "y": {"field": "y1", "type": "quantitative", "scale": {"domain": [-0.185, 3.927], "nice": false, "zero": false}, "axis": {"values": [0, 0.5, 1, 1.5, 2, 2.5, 3, 3.5], "format": ".0f", "labelExpr": "datum.value % 1 === 0 ? datum.label : ''", "title": "Ergebnis (O/E)", "labelPadding": 7, "titlePadding": 8}},
        "y2": {"field": "y2"},
        "fill": {"datum": "Referenzbereich", "type": "nominal", "scale": {"range": ["#2a7a80"]}, "legend": {"title": null, "orient": "none", "legendX": 849, "legendY": 613, "symbolType": "square", "symbolSize": 729, "symbolStrokeWidth": 0, "labelOffset": 9}}
      }
    },
    {
      "data": {"name": "pts"},
      "mark": {"type": "point", "filled": true, "opacity": 0.45},
      "encoding": {
        "x": {"field": "E", "type": "quantitative"},
        "y": {"field": "R", "type": "quantitative"},
        "color": {"field": "k", "type": "nominal", "scale": {"domain": ["Nein", "Rechnerisch", "Ihr Ergebnis"], "range": ["#0b6462", "#e07b16", "#0b5e5c"]}, "legend": {"title": "Auffällig", "orient": "none", "legendX": 21, "legendY": 587, "direction": "horizontal", "symbolSize": 70, "symbolOpacity": 1, "symbolStrokeColor": "#1068b0", "labelOffset": 12, "columnPadding": 10, "symbolOffset": 2, "titlePadding": 12}},
        "shape": {"field": "k", "type": "nominal", "scale": {"domain": ["Nein", "Rechnerisch", "Ihr Ergebnis"], "range": ["circle", "diamond", "circle"]}, "legend": {"title": "Auffällig", "orient": "none", "legendX": 21, "legendY": 587, "direction": "horizontal", "symbolSize": 70, "symbolOpacity": 1, "symbolStrokeColor": "#1068b0", "labelOffset": 12, "columnPadding": 10, "symbolOffset": 2, "titlePadding": 12}},
        "size": {"field": "n", "type": "quantitative", "scale": {"domain": [1, 4], "range": [50, 175], "zero": false}, "legend": {"title": "Anzahl Standorte", "orient": "none", "legendX": 415, "legendY": 587, "direction": "horizontal", "values": [1, 2, 4], "format": "d", "symbolFillColor": "black", "symbolOpacity": 1, "symbolStrokeWidth": 0, "symbolType": "circle", "symbolOffset": 4, "labelOffset": 11, "columnPadding": 7, "titlePadding": 12}}
      }
    },
    {
      "data": {"name": "ihr"},
      "mark": {"type": "point", "filled": true, "opacity": 1, "size": 140, "stroke": "#1068b0"},
      "encoding": {
        "x": {"field": "E", "type": "quantitative"},
        "y": {"field": "R", "type": "quantitative"},
        "color": {"field": "k", "type": "nominal"},
        "shape": {"field": "k", "type": "nominal"},
        "strokeWidth": {"field": "k", "type": "nominal", "scale": {"type": "ordinal", "domain": ["Nein", "Rechnerisch", "Ihr Ergebnis"], "range": [0, 0, 3.5]}, "legend": {"title": "Auffällig", "orient": "none", "legendX": 21, "legendY": 587, "direction": "horizontal", "symbolSize": 70, "symbolOpacity": 1, "symbolStrokeColor": "#1068b0", "labelOffset": 12, "columnPadding": 10, "symbolOffset": 2, "titlePadding": 12}}
      }
    },
    {
      "data": {"name": "zz"},
      "mark": {"type": "line", "clip": true, "strokeWidth": 1.4},
      "encoding": {
        "x": {"field": "E", "type": "quantitative"},
        "y": {"field": "R", "type": "quantitative"},
        "order": {"field": "i", "type": "quantitative"},
        "stroke": {"datum": "signifikante Abweichung|vom Referenzwert", "type": "nominal", "scale": {"range": ["black"]}, "legend": {"title": null, "orient": "none", "legendX": 589, "legendY": 612, "labelExpr": "split(datum.label, '|')", "symbolSize": 420, "symbolStrokeWidth": 1.5, "labelOffset": 10}}
      }
    }
  ]
}
